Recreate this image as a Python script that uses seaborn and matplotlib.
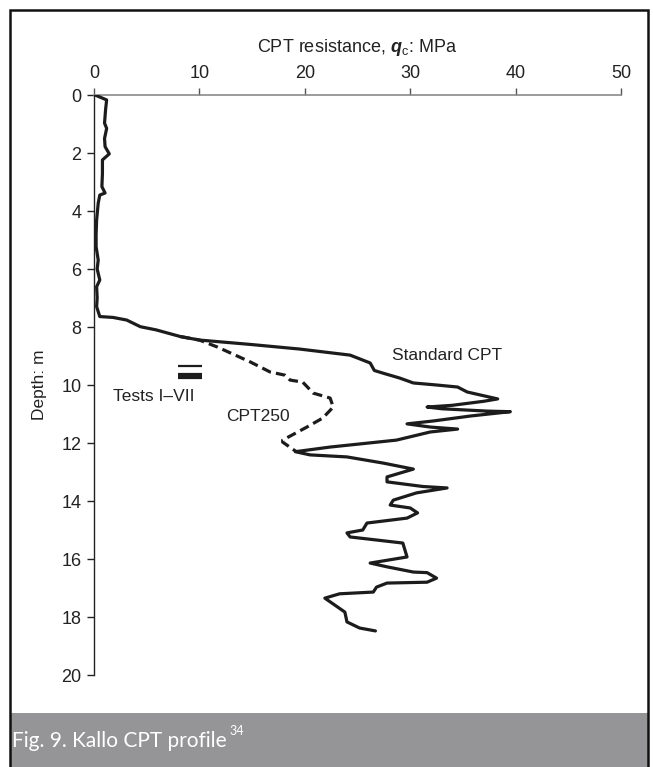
import matplotlib
matplotlib.use("Agg")
import matplotlib.pyplot as plt
import seaborn as sns
import pandas as pd
from matplotlib.patches import Rectangle

# ---------------- data ----------------
std_depth = [0, 0.17, 0.5, 0.97, 1.15, 1.5, 1.78, 2.03, 2.24, 2.7, 3.16, 3.38, 3.45, 3.73,
             4.31, 4.8, 5.23, 5.69, 6.0, 6.38, 6.61, 7.0, 7.3, 7.64, 7.67, 7.76, 7.99, 8.1,
             8.33, 8.45, 8.6, 8.76, 8.97, 9.24, 9.5, 9.6, 9.76, 9.93, 10.0, 10.07, 10.24,
             10.34, 10.48, 10.56, 10.7, 10.76, 10.82, 10.9, 10.92, 11.07, 11.24, 11.34,
             11.45, 11.52, 11.62, 11.9, 12.14, 12.3, 12.41, 12.48, 12.69, 12.9, 13.17,
             13.34, 13.5, 13.55, 13.72, 13.97, 14.14, 14.24, 14.41, 14.59, 14.76, 15.0,
             15.1, 15.24, 15.45, 15.93, 16.14, 16.27, 16.45, 16.47, 16.66, 16.8, 16.83,
             16.97, 17.14, 17.2, 17.35, 17.83, 18.17, 18.38, 18.48]
std_qc = [0.1, 1.2, 1.1, 1.0, 1.2, 1.0, 1.05, 1.45, 0.8, 0.8, 0.75, 1.05, 0.55, 0.4,
          0.25, 0.2, 0.2, 0.4, 0.3, 0.55, 0.25, 0.3, 0.25, 0.55, 1.8, 3.1, 4.4, 5.9,
          8.2, 10.0, 14.8, 19.5, 24.3, 26.2, 26.6, 27.5, 29.0, 30.3, 32.5, 34.5, 35.4,
          36.6, 38.3, 37.0, 34.0, 31.6, 33.0, 37.3, 39.5, 35.7, 32.2, 29.7,
          31.9, 34.5, 31.9, 28.7, 22.4, 19.1, 20.5, 24.0, 27.4, 30.3, 27.8,
          27.8, 31.2, 33.5, 30.6, 28.4, 28.1, 30.0, 30.7, 29.7, 25.9, 25.5,
          24.0, 24.3, 29.3, 29.7, 26.2, 27.8, 30.3, 31.6, 32.5, 31.6, 27.8,
          26.8, 26.5, 23.3, 21.9, 23.8, 24.0, 25.2, 26.7]

cpt250_depth = [8.33, 8.45, 8.69, 9.2, 9.55, 9.66, 9.83, 9.9, 10.28, 10.45, 10.76,
                11.14, 11.45, 11.9, 11.97, 12.3]
cpt250_qc = [8.2, 10.0, 11.7, 14.8, 16.7, 18.1, 18.6, 19.8, 20.8, 22.4, 22.7,
             21.7, 20.2, 17.9, 17.9, 19.2]

test_depths = [9.33, 9.63, 9.70, 9.77]
test_qc_range = [8.0, 10.2]

x_ticks = [0, 10, 20, 30, 40, 50]
y_ticks = [0, 2, 4, 6, 8, 10, 12, 14, 16, 18, 20]

# ---------------- style ----------------
sns.set_theme(style="white")
plt.rcParams['font.family'] = ['Liberation Sans', 'DejaVu Sans']
plt.rcParams['mathtext.fontset'] = 'custom'
plt.rcParams['mathtext.rm'] = 'Liberation Sans'
plt.rcParams['mathtext.it'] = 'Liberation Sans:italic'
plt.rcParams['mathtext.bf'] = 'Liberation Sans:bold'
plt.rcParams['mathtext.bfit'] = 'Liberation Sans:italic:bold'

W, H = 653, 767
fig = plt.figure(figsize=(W / 100, H / 100), dpi=100)
ax = fig.add_axes([94 / W, 1 - 675 / H, (621 - 94) / W, (675 - 95) / H])

line_col = "#1c1c1c"
std_df = pd.DataFrame({"qc": std_qc, "depth": std_depth})
c250_df = pd.DataFrame({"qc": cpt250_qc, "depth": cpt250_depth})

sns.lineplot(data=std_df, x="qc", y="depth", sort=False, estimator=None,
             color=line_col, lw=2.3, ax=ax, zorder=3)
sns.lineplot(data=c250_df, x="qc", y="depth", sort=False, estimator=None,
             color=line_col, lw=2.3, ax=ax, zorder=2, dashes=False,
             linestyle=(0, (3.0, 1.6)))

for d in test_depths:
    ax.hlines(d, test_qc_range[0], test_qc_range[1], color=line_col, lw=1.6)

ax.set_xlim(0, 50)
ax.set_ylim(20, 0)
ax.set_xticks(x_ticks)
ax.set_yticks(y_ticks)
ax.xaxis.tick_top()
ax.xaxis.set_label_position('top')
ax.set_xlabel(r"CPT resistance, $\mathbfit{q}_\mathrm{c}$: MPa", fontsize=13,
              color="#222222", labelpad=10)
ax.set_ylabel("Depth: m", fontsize=12.5, color="#222222", labelpad=10)

for s in ["right", "bottom"]:
    ax.spines[s].set_visible(False)
ax.spines["top"].set_color("#8a8a8a")
ax.spines["top"].set_linewidth(1.2)
ax.spines["left"].set_color("#222222")
ax.spines["left"].set_linewidth(1.0)
ax.tick_params(axis='x', which='both', top=True, bottom=False, direction='out',
               length=5, width=1.0, color="#555555", labelsize=13,
               labelcolor="#222222", pad=4)
ax.tick_params(axis='y', which='both', left=True, direction='out', length=5,
               width=1.0, color="#222222", labelsize=13, labelcolor="#222222", pad=4)
ax.grid(False)
ax.set_facecolor("none")

ax.text(33.5, 8.97, "Standard CPT", fontsize=12.5, color="#222222",
        ha="center", va="center")
ax.text(15.6, 11.07, "CPT250", fontsize=12.5, color="#222222", ha="center", va="center")
ax.text(5.7, 10.38, "Tests I\u2013VII", fontsize=12.5, color="#222222",
        ha="center", va="center")

# caption bar and frame
fig.patches.append(Rectangle((10 / W, 0), (648 - 10) / W, (767 - 713) / H,
                             transform=fig.transFigure, facecolor="#959597",
                             edgecolor="none", zorder=0))
fig.patches.append(Rectangle((10 / W, -0.01), (648 - 10) / W, 1 - 10 / H + 0.01,
                             transform=fig.transFigure, facecolor="none",
                             edgecolor="#111111", lw=1.8, zorder=1))
cap = fig.text(12 / W, 1 - 741 / H, "Fig. 9. Kallo CPT profile", color="white",
               fontsize=15, family=["Lato", "DejaVu Sans"], ha="left", va="center")
fig.canvas.draw()
bb = cap.get_window_extent(renderer=fig.canvas.get_renderer())
fig.text((bb.x1 + 3) / W, (bb.y1 - 6) / H, "34", color="white", fontsize=9,
         family=["Lato", "DejaVu Sans"], ha="left", va="bottom")

fig.savefig("out.png", dpi=100)
